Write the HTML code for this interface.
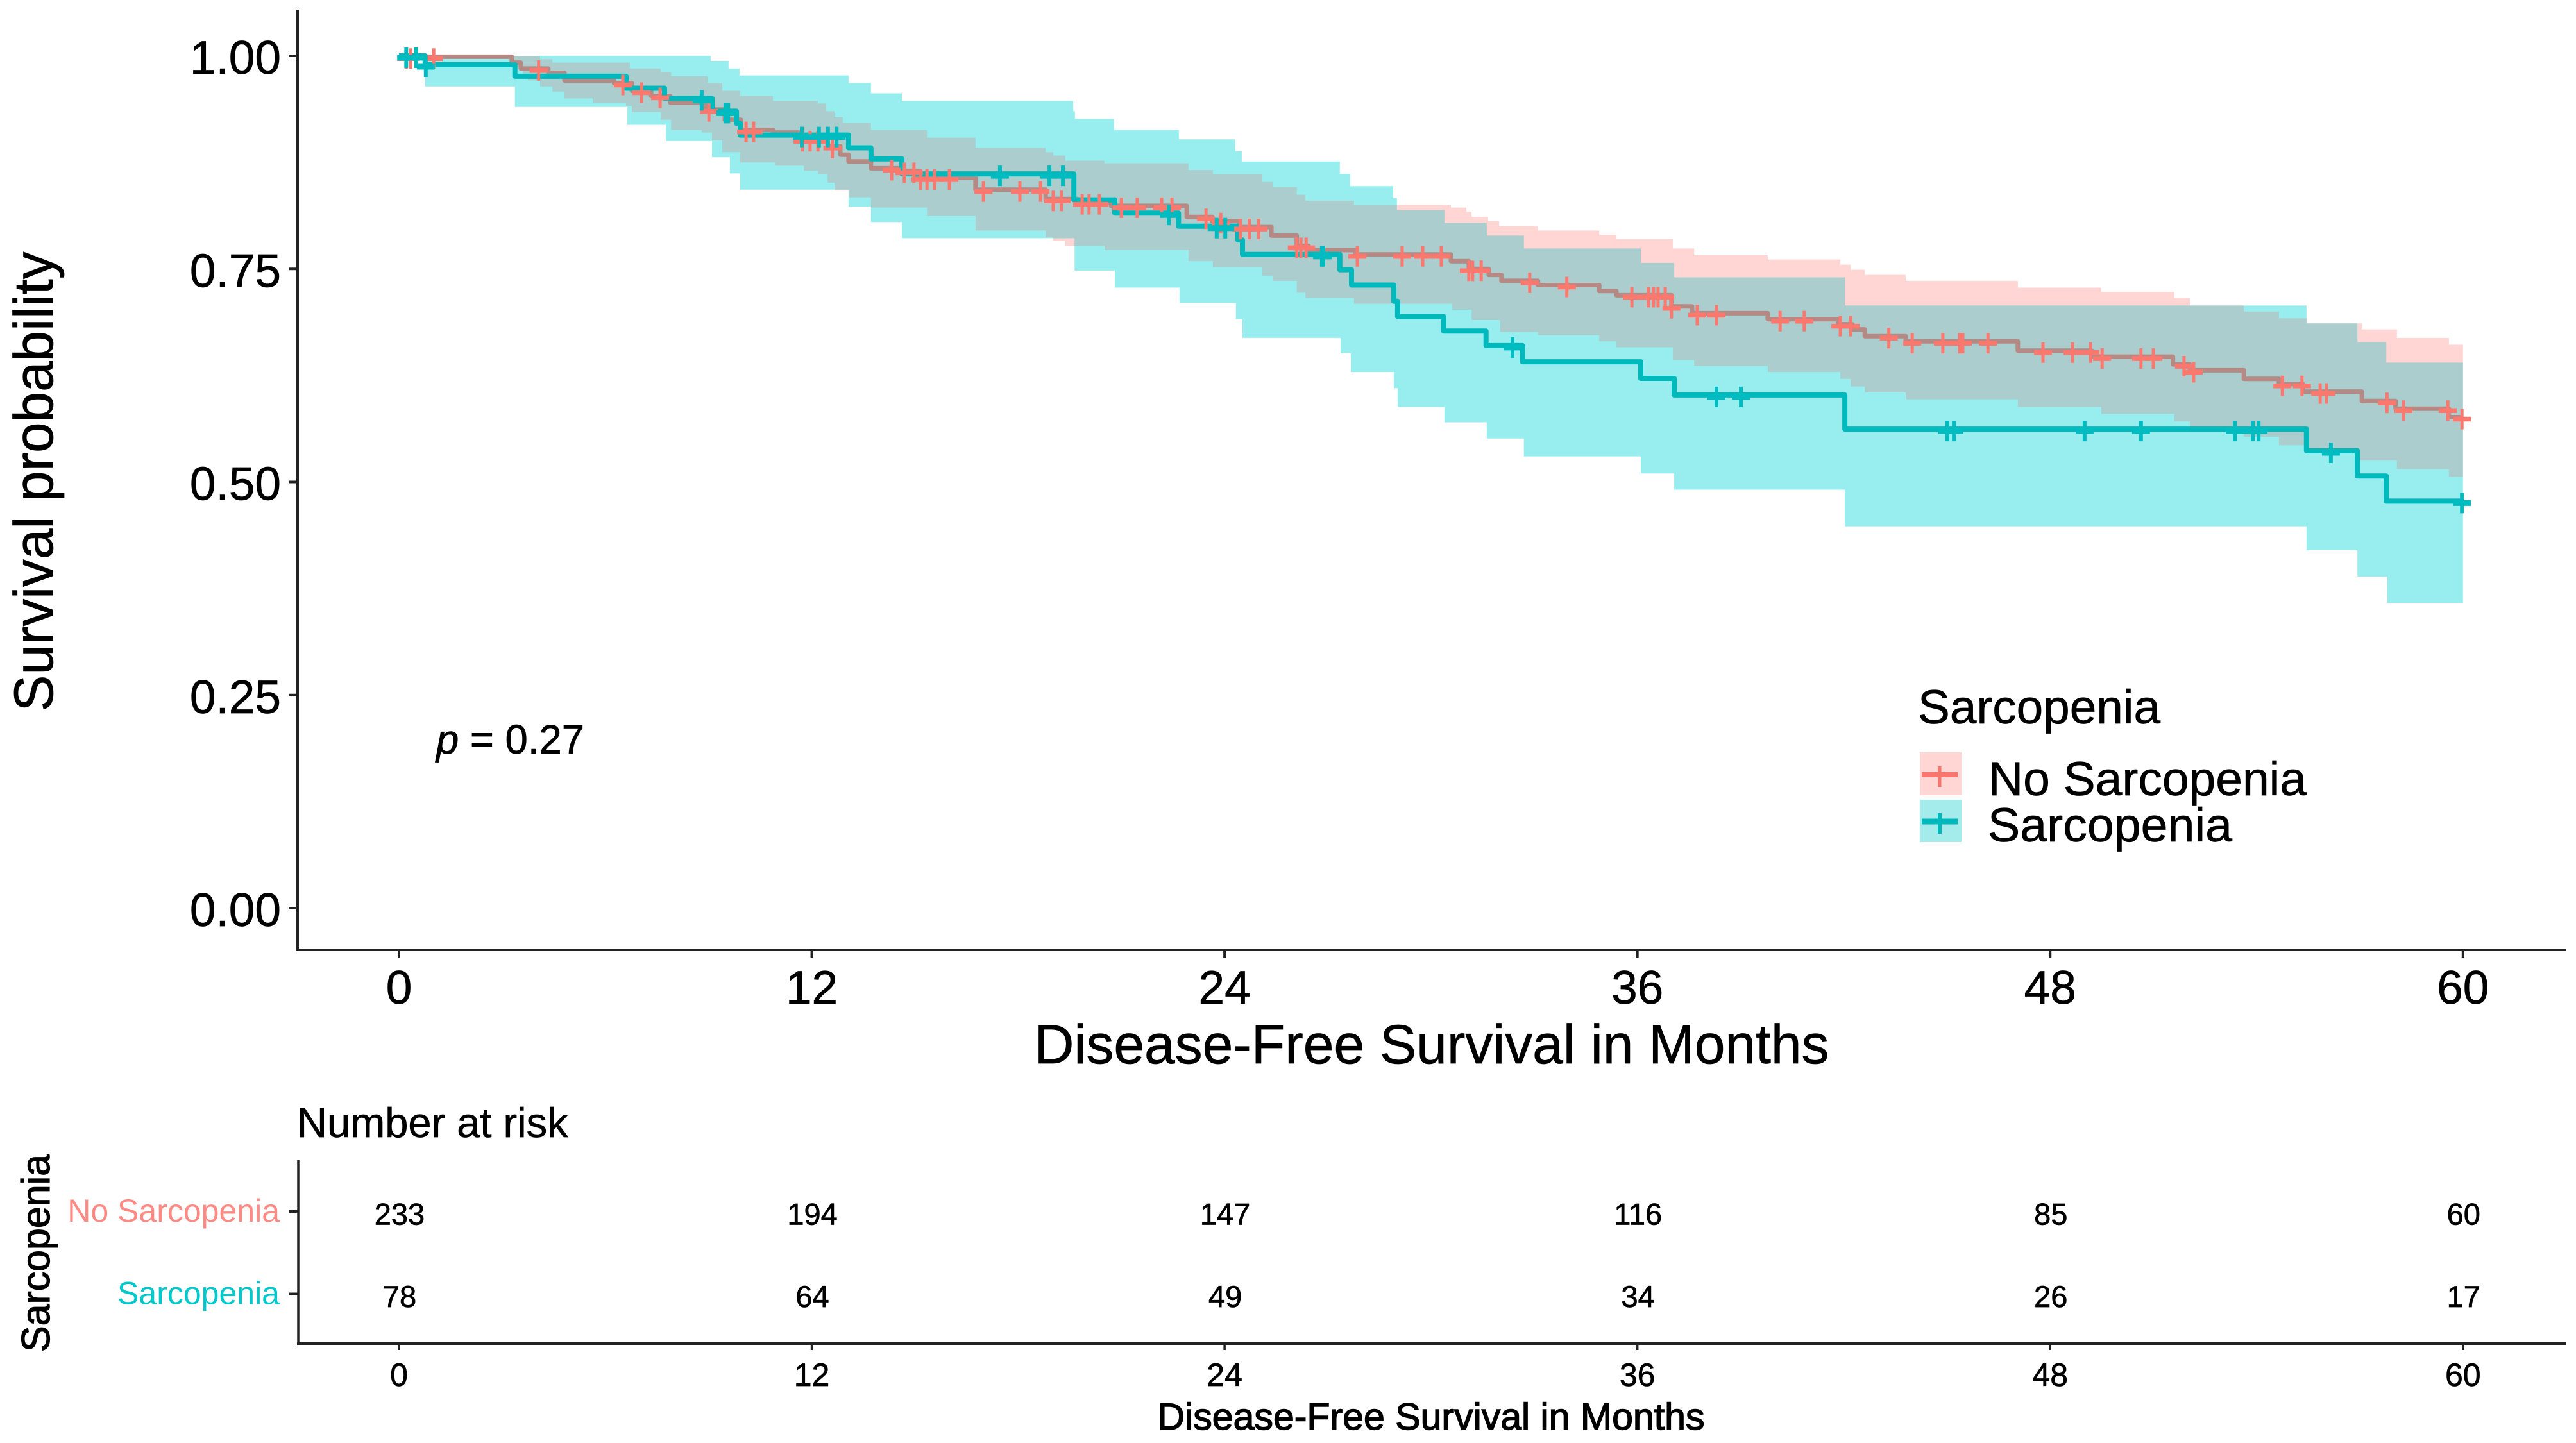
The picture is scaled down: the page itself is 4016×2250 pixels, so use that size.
<!DOCTYPE html>
<html lang="en">
<head>
<meta charset="utf-8">
<title>Disease-Free Survival by Sarcopenia</title>
<style>
html,body{margin:0;padding:0;background:#fff;}
svg{display:block;}
text{font-family:"Liberation Sans",Arial,sans-serif;fill:#000;stroke:#000;stroke-width:.7px;}
</style>
</head>
<body>
<svg id="chart" xmlns="http://www.w3.org/2000/svg" width="4016" height="2250" viewBox="0 0 4016 2250">
  <rect x="0" y="0" width="4016" height="2250" fill="#fff"/>
  <defs><clipPath id="sarcRibbonClip"><path id="sarcClipPath"/></clipPath></defs>
  <g id="ribbons"></g>
  <g id="lines"></g>
  <g id="marks"></g>

  <line x1="464" y1="15" x2="464" y2="1481" stroke="#222" stroke-width="4"/>
  <line x1="462" y1="1481" x2="4000" y2="1481" stroke="#222" stroke-width="4"/>
  <g id="axes"></g>

  <text transform="translate(82,751) rotate(-90)" text-anchor="middle" font-size="86" textLength="717" lengthAdjust="spacingAndGlyphs">Survival probability</text>
  <text x="2232" y="1658" text-anchor="middle" font-size="86" textLength="1239" lengthAdjust="spacingAndGlyphs">Disease-Free Survival in Months</text>
  <text x="680" y="1175" font-size="64" textLength="231" lengthAdjust="spacingAndGlyphs"><tspan font-style="italic">p</tspan> = 0.27</text>

  <g>
    <text x="2990" y="1128" font-size="74" textLength="378" lengthAdjust="spacingAndGlyphs">Sarcopenia</text>
    <rect x="2993" y="1173" width="65" height="67" fill="#ffd6d3"/>
    <line x1="2996" y1="1208" x2="3052" y2="1208" stroke="#f8766d" stroke-width="8"/>
    <line x1="3024" y1="1195" x2="3024" y2="1227" stroke="#f8766d" stroke-width="5"/>
    <text x="3100" y="1240" font-size="74" textLength="496" lengthAdjust="spacingAndGlyphs">No Sarcopenia</text>
    <rect x="2993" y="1247" width="65" height="66" fill="#a4eceb"/>
    <line x1="2996" y1="1281" x2="3052" y2="1281" stroke="#00b9bc" stroke-width="9"/>
    <line x1="3024" y1="1268" x2="3024" y2="1300" stroke="#00b9bc" stroke-width="6"/>
    <text x="3099" y="1312" font-size="74" textLength="381" lengthAdjust="spacingAndGlyphs">Sarcopenia</text>
  </g>

  <text x="463" y="1773" font-size="65">Number at risk</text>
  <line x1="465" y1="1809" x2="465" y2="2095" stroke="#222" stroke-width="3.5"/>
  <line x1="463" y1="2095" x2="4000" y2="2095" stroke="#222" stroke-width="4"/>
  <g id="risk"></g>
  <text transform="translate(77,1954) rotate(-90)" text-anchor="middle" font-size="62" textLength="308" lengthAdjust="spacingAndGlyphs" style="stroke-width:1.2px">Sarcopenia</text>
  <text x="2231" y="2229" text-anchor="middle" font-size="58" textLength="853" lengthAdjust="spacingAndGlyphs" style="stroke-width:1.4px">Disease-Free Survival in Months</text>
</svg>

<script>
const xTicks = [0, 12, 24, 36, 48, 60];
const yTicks = [0, 0.25, 0.5, 0.75, 1];
const yTickLabels = ["0.00", "0.25", "0.50", "0.75", "1.00"];
const riskGroups = ["No Sarcopenia", "Sarcopenia"];
const riskNoSarcopenia = [233, 194, 147, 116, 85, 60];
const riskSarcopenia = [78, 64, 49, 34, 26, 17];

const noSarcT = [0,3.28,3.54,4.34,4.81,6.25,6.77,7.33,7.89,8.91,9.47,9.94,10.87,11.62,12.46,12.83,13.07,13.72,14.51,15.07,16.76,18.80,19.73,20.70,22.90,23.64,24.43,25.36,26.10,26.44,27.80,30.58,31.10,31.68,32.05,33.11,34.89,35.39,36.99,37.59,39.79,41.84,42.25,42.61,43.80,47.06,49.21,51.57,52.06,53.63,54.65,55.34,57.06,58.04,59.59];
const noSarcS = [.999,.992,.985,.98,.971,.968,.959,.953,.945,.937,.925,.913,.91,.902,.894,.884,.876,.868,.865,.857,.843,.832,.828,.824,.811,.806,.799,.789,.777,.772,.767,.759,.75,.743,.736,.731,.724,.719,.706,.698,.691,.685,.679,.671,.665,.654,.647,.638,.631,.621,.615,.606,.595,.586,.576];

const noSarcUpperT = [0,4.10,4.46,6.71,7.61,7.91,8.97,9.40,9.92,10.87,12.18,12.42,12.66,12.90,13.72,15.35,16.76,18.80,19.02,19.37,20.51,22.95,23.66,25.10,25.40,26.10,26.35,27.76,30.58,31.03,31.18,31.66,31.98,33.11,34.89,35.39,37.03,37.65,39.79,41.90,42.20,42.61,43.80,47.06,49.49,51.61,52.06,53.63,54.65,55.45,57.06,58.08,59.59];
const noSarcUpperS = [1,.996,.992,.985,.981,.976,.968,.959,.953,.947,.944,.935,.928,.921,.913,.904,.892,.887,.883,.877,.874,.866,.861,.852,.846,.837,.830,.825,.822,.817,.811,.806,.800,.795,.790,.785,.774,.766,.761,.755,.749,.743,.736,.728,.723,.716,.707,.700,.692,.686,.679,.669,.661];

const noSarcLowerT = [0,3.28,3.60,3.75,4.10,4.46,4.81,5.65,6.60,6.77,7.61,7.91,8.80,9.10,9.40,9.92,10.93,11.77,12.18,12.46,12.66,13.07,13.72,15.35,16.76,18.80,19.02,19.37,20.51,22.95,23.66,25.10,25.40,26.10,26.35,27.76,30.62,31.18,32.01,33.11,34.89,35.39,37.03,37.65,39.79,41.90,42.20,42.61,43.80,47.06,49.49,51.61,52.06,53.63,54.65,55.45,56.93,58.08,59.59];
const noSarcLowerS = [1,.987,.979,.971,.964,.958,.950,.945,.941,.934,.925,.913,.910,.901,.887,.875,.871,.865,.861,.851,.842,.834,.822,.812,.795,.787,.783,.777,.772,.759,.752,.742,.736,.722,.716,.709,.702,.690,.676,.672,.665,.658,.643,.636,.629,.621,.612,.605,.597,.588,.580,.571,.561,.553,.543,.534,.525,.515,.506];

const sarcT = [0,.76,3.37,6.60,7.72,9.10,9.81,9.92,13.07,13.72,14.62,19.62,20.81,22.66,24.39,24.52,27.35,27.69,28.92,29.03,30.37,31.60,32.66,36.10,37.07,42.03,55.45,56.93,57.77];
const sarcS = [1,.9895,.976,.962,.95,.935,.921,.907,.892,.879,.8615,.831,.8155,.80,.784,.767,.749,.731,.712,.694,.677,.66,.641,.6215,.602,.562,.5365,.507,.4775];

const sarcUpperT = [0,9.06,9.58,9.90,13.07,13.72,14.62,19.60,19.65,20.79,22.67,24.31,24.50,27.35,27.65,28.90,29.01,30.39,31.62,32.70,36.10,37.07,42.03,55.45,56.93,57.77];
const sarcUpperS = [1,.994,.985,.977,.968,.956,.947,.935,.926,.913,.902,.888,.876,.8615,.847,.833,.819,.804,.789,.774,.757,.74,.707,.686,.664,.64];

const sarcLowerT = [0,.76,3.37,6.64,7.76,9.10,9.62,9.92,13.07,13.72,14.62,19.64,20.81,22.69,24.33,24.52,27.37,27.67,28.92,29.03,30.39,31.62,32.70,36.10,37.07,42.03,55.45,56.93,57.80];
const sarcLowerS = [1,.964,.94,.919,.90,.881,.862,.843,.823,.805,.786,.748,.728,.71,.691,.669,.651,.629,.61,.588,.57,.551,.53,.51,.491,.448,.42,.389,.358];

const noSarcCensor = [.21,.34,1.01,4.06,6.51,7.05,7.59,9.01,10.09,10.31,11.73,11.95,12.18,12.60,14.32,14.69,14.97,15.16,15.35,15.57,16.0,16.99,18.05,18.65,19.02,19.26,19.86,20.06,20.36,21.0,21.46,22.17,22.47,23.46,23.89,24.46,24.72,24.99,26.1,26.22,26.37,27.86,29.16,29.76,30.3,31.1,31.21,31.46,32.87,33.95,35.84,36.32,36.47,36.6,36.81,36.99,37.74,38.3,40.15,40.85,41.9,42.2,43.31,43.99,44.88,45.37,45.46,46.19,47.79,48.65,49.17,49.51,50.64,51.0,51.89,52.17,54.75,55.32,55.85,56.03,57.79,58.27,59.56,59.97];
const sarcCensor = [.21,.50,.78,8.80,9.49,9.57,11.71,12.21,12.47,12.72,17.47,18.91,19.3,22.38,23.77,24.02,26.83,26.87,32.37,38.3,39.01,45.01,45.2,49.0,50.64,53.37,53.89,54.06,56.16,59.97];

const tMax = 60;
function xScale(t) { return 622 + t * 53.63; }
function yScale(s) { return 87 + (1 - s) * 1329; }

const SVGNS = "http://www.w3.org/2000/svg";
function make(tag, attrs, parent) {
  const el = document.createElementNS(SVGNS, tag);
  for (const k in attrs) el.setAttribute(k, attrs[k]);
  parent.appendChild(el);
  return el;
}

function stepLine(ts, ss) {
  let d = "M" + xScale(ts[0]) + " " + yScale(ss[0]);
  for (let i = 1; i < ts.length; i++) {
    d += "H" + xScale(ts[i]).toFixed(1) + "V" + yScale(ss[i]).toFixed(1);
  }
  return d + "H" + xScale(tMax);
}
function ribbon(tu, su, tl, sl) {
  let d = stepLine(tu, su);
  d += "V" + yScale(sl[sl.length - 1]).toFixed(1);
  for (let i = tl.length - 1; i >= 0; i--) {
    d += "H" + xScale(tl[i]).toFixed(1);
    if (i > 0) d += "V" + yScale(sl[i - 1]).toFixed(1);
  }
  return d + "Z";
}
function stepValue(ts, ss, t) {
  let v = ss[0];
  for (let i = 0; i < ts.length; i++) { if (ts[i] <= t) v = ss[i]; }
  return v;
}

const ribbonsG = document.getElementById("ribbons");
const noSarcRibbonD = ribbon(noSarcUpperT, noSarcUpperS, noSarcLowerT, noSarcLowerS);
const sarcRibbonD = ribbon(sarcUpperT, sarcUpperS, sarcLowerT, sarcLowerS);
document.getElementById("sarcClipPath").setAttribute("d", sarcRibbonD);

const pinkRibbon = make("path", {d: noSarcRibbonD, fill: "#ffd6d3"}, ribbonsG);


const tealRibbon = make("path", {d: sarcRibbonD, fill: "#98eeef"}, ribbonsG);


const overlapRibbon = make("path", {d: noSarcRibbonD, fill: "#abcdcd", "clip-path": "url(#sarcRibbonClip)"}, ribbonsG);



const linesG = document.getElementById("lines");
const noSarcLine = make("path", {d: stepLine(noSarcT, noSarcS), fill: "none", stroke: "#b58a85", "stroke-width": 7, "stroke-linejoin": "round"}, linesG);


const sarcLine = make("path", {d: stepLine(sarcT, sarcS), fill: "none", stroke: "#00b9bc", "stroke-width": 8, "stroke-linejoin": "round"}, linesG);



const marksG = document.getElementById("marks");
function drawPlus(t, ts, ss, color, wV, wH) {
  const cx = xScale(t);
  const cy = yScale(stepValue(ts, ss, t)) + 3;
  const g = make("g", {fill: "none", stroke: color}, marksG);
  make("path", {d: "M" + (cx - 14).toFixed(1) + " " + cy.toFixed(1) + "H" + (cx + 14).toFixed(1), "stroke-width": wH}, g);
  make("path", {d: "M" + cx.toFixed(1) + " " + (cy - 16).toFixed(1) + "V" + (cy + 16).toFixed(1), "stroke-width": wV}, g);
  return g;
}
noSarcCensor.forEach(function (t) {
  const m = drawPlus(t, noSarcT, noSarcS, "#fb786f", 5, 7.5);
  
  
});
sarcCensor.forEach(function (t) {
  const m = drawPlus(t, sarcT, sarcS, "#00bcc0", 6, 9);
  
  
});

const axesG = document.getElementById("axes");
yTicks.forEach(function (v, i) {
  const y = yScale(v);
  const tick = make("line", {x1: 450, x2: 464, y1: y, y2: y, stroke: "#222", "stroke-width": 4}, axesG);
  
  
  const label = make("text", {x: 438, y: y + 28, "text-anchor": "end", "font-size": 73}, axesG);
  
  
  label.textContent = yTickLabels[i];
});
xTicks.forEach(function (v) {
  const x = xScale(v);
  const tick = make("line", {x1: x, x2: x, y1: 1481, y2: 1493, stroke: "#222", "stroke-width": 4}, axesG);
  
  
  const label = make("text", {x: x, y: 1565, "text-anchor": "middle", "font-size": 73}, axesG);
  
  
  label.textContent = String(v);
});

const riskG = document.getElementById("risk");
const riskRows = [
  {y: 1889, values: riskNoSarcopenia, color: "#ff8a83", label: riskGroups[0]},
  {y: 2017.5, values: riskSarcopenia, color: "#00c8cc", label: riskGroups[1]}
];
riskRows.forEach(function (row) {
  const tick = make("line", {x1: 451, x2: 465, y1: row.y, y2: row.y, stroke: "#222", "stroke-width": 4}, riskG);
  
  
  const label = make("text", {x: 436, y: row.y + 16, "text-anchor": "end", "font-size": 50, style: "stroke:none;fill:" + row.color}, riskG);
  
  
  label.textContent = row.label;
  row.values.forEach(function (n, i) {
    const cell = make("text", {x: xScale(xTicks[i]) + 1, y: row.y + 20.5, "text-anchor": "middle", "font-size": 47}, riskG);
    
    
    cell.textContent = String(n);
  });
});
xTicks.forEach(function (v) {
  const x = xScale(v);
  const tick = make("line", {x1: x, x2: x, y1: 2095, y2: 2105, stroke: "#222", "stroke-width": 3.5}, riskG);
  
  
  const label = make("text", {x: x, y: 2161, "text-anchor": "middle", "font-size": 50}, riskG);
  
  
  label.textContent = String(v);
});
</script>
</body>
</html>
